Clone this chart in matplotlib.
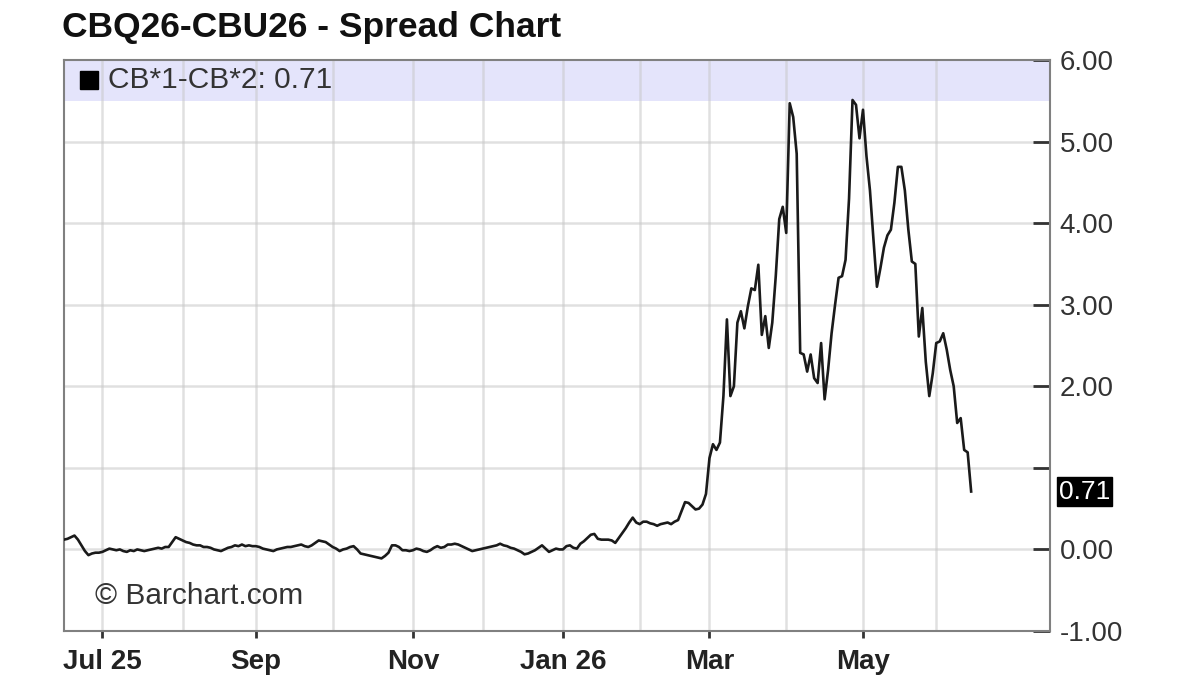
# Spread chart CBQ26-CBU26, barchart style
import matplotlib.pyplot as plt
import numpy as np
import pandas as pd

START_DATE = '2025-06-16'   # first trading day on the chart
LAST_VALUE = 0.71

# daily spread values (trading days)
spread = [
    0.12, 0.13, 0.15, 0.17, 0.12, 0.05, -0.02, -0.07, -0.05, -0.04,
    -0.04, -0.03, -0.01, 0.01, 0.00, -0.01, 0.00, -0.02, -0.03, -0.01,
    -0.02, 0.00, -0.01, -0.02, -0.01, 0.00, 0.01, 0.02, 0.01, 0.03,
    0.03, 0.09, 0.15, 0.13, 0.11, 0.09, 0.08, 0.06, 0.05, 0.05,
    0.03, 0.03, 0.02, 0.00, -0.01, -0.02, 0.00, 0.02, 0.03, 0.05,
    0.04, 0.06, 0.04, 0.05, 0.04, 0.04, 0.03, 0.01, 0.00, -0.01,
    -0.02, 0.00, 0.01, 0.02, 0.03, 0.03, 0.04, 0.05, 0.06, 0.04,
    0.03, 0.05, 0.08, 0.11, 0.10, 0.09, 0.06, 0.03, 0.01, -0.02,
    0.00, 0.01, 0.03, 0.04, 0.00, -0.05, -0.06, -0.07, -0.08, -0.09,
    -0.10, -0.11, -0.08, -0.04, 0.05, 0.05, 0.03, -0.01, -0.01, -0.02,
    -0.01, 0.01, 0.00, -0.02, -0.03, -0.01, 0.02, 0.04, 0.02, 0.03,
    0.06, 0.06, 0.07, 0.06, 0.04, 0.02, 0.00, -0.02, -0.01, 0.00,
    0.01, 0.02, 0.03, 0.04, 0.05, 0.07, 0.05, 0.04, 0.02, 0.01,
    -0.01, -0.03, -0.06, -0.05, -0.03, -0.01, 0.02, 0.05, 0.01, -0.03,
    -0.01, 0.01, 0.00, 0.00, 0.04, 0.05, 0.02, 0.01, 0.07, 0.10,
    0.14, 0.18, 0.19, 0.13, 0.12, 0.12, 0.12, 0.11, 0.08, 0.14,
    0.20, 0.26, 0.33, 0.39, 0.33, 0.31, 0.34, 0.34, 0.32, 0.31,
    0.29, 0.31, 0.32, 0.33, 0.31, 0.34, 0.36, 0.47, 0.58, 0.57,
    0.53, 0.49, 0.50, 0.55, 0.68, 1.12, 1.29, 1.22, 1.31, 1.88,
    2.82, 1.88, 2.00, 2.78, 2.92, 2.71, 2.98, 3.20, 3.18, 3.49,
    2.63, 2.86, 2.47, 2.78, 3.35, 4.05, 4.20, 3.88, 5.47, 5.30,
    4.85, 2.41, 2.39, 2.18, 2.39, 2.10, 2.04, 2.53, 1.84, 2.20,
    2.65, 3.00, 3.33, 3.35, 3.55, 4.30, 5.51, 5.45, 5.04, 5.39,
    4.82, 4.40, 3.80, 3.22, 3.45, 3.70, 3.85, 3.92, 4.25, 4.69,
    4.69, 4.40, 3.92, 3.53, 3.50, 2.61, 2.96, 2.30, 1.88, 2.16,
    2.53, 2.55, 2.65, 2.45, 2.20, 2.00, 1.55, 1.61, 1.22, 1.19,
    0.71,
]

Y_TICKS = [-1, 0, 1, 2, 3, 4, 5, 6]
X_LABEL_MONTHS = ['2025-07', '2025-09', '2025-11', '2026-01', '2026-03', '2026-05']
X_LABELS = ['Jul 25', 'Sep', 'Nov', 'Jan 26', 'Mar', 'May']

plt.rcParams['font.family'] = ['Liberation Sans', 'DejaVu Sans']

dates = pd.bdate_range(START_DATE, periods=len(spread))
x = np.arange(len(spread))

# index of first trading day of every month
months = pd.Series(dates.to_period('M'))
month_first = months.drop_duplicates()
month_idx = [i for i in month_first.index if i > 0]
month_name = [str(months[i]) for i in month_idx]

fig = plt.figure(figsize=(12, 7), dpi=100)
ax = fig.add_axes([64/1200, 69/700, 986/1200, 571/700])

ax.set_xlim(0, 282.6)
ax.set_ylim(-1, 6)

# legend band on top
ax.axhspan(5.5, 6.0, color='#e4e4fb', zorder=0, lw=0)

for xi in month_idx:
    ax.axvline(xi, color='#c8c8c8', alpha=0.55, lw=1.8, zorder=1)
for yv in Y_TICKS[1:-1]:
    ax.axhline(yv, color='#c8c8c8', alpha=0.55, lw=1.8, zorder=1)

ax.plot(x, spread, color='#1a1a1a', lw=1.9, zorder=3)

# axes look
for side in ['left', 'right', 'top', 'bottom']:
    ax.spines[side].set_color('#808080')
    ax.spines[side].set_linewidth(1.5)

ax.yaxis.tick_right()
ax.set_yticks(Y_TICKS)
ax.set_yticklabels(['' if v == 1 else '%.2f' % v for v in Y_TICKS])
ax.tick_params(axis='y', direction='in', length=12, width=2, color='#333333',
               labelsize=20, labelcolor='#333333', pad=7)

tick_pos = [month_idx[month_name.index(m)] for m in X_LABEL_MONTHS]
ax.set_xticks(tick_pos)
ax.set_xticklabels(X_LABELS, fontweight='bold')
ax.tick_params(axis='x', direction='out', length=5, width=2, color='#333333',
               labelsize=20, labelcolor='#222222', pad=8)

# last value marker on the axis
ax.text(1.009, LAST_VALUE, '%.2f' % LAST_VALUE, transform=ax.get_yaxis_transform(),
        ha='left', va='center', fontsize=19, color='white', clip_on=False,
        bbox=dict(boxstyle='square,pad=0.08', fc='black', ec='black'))

# legend text
ax.plot([0.025], [0.965], marker='s', ms=13, color='black', transform=ax.transAxes,
        clip_on=False, zorder=4)
ax.text(0.045, 0.965, 'CB*1-CB*2: %.2f' % LAST_VALUE, transform=ax.transAxes,
        ha='left', va='center', fontsize=21.5, color='#333333', zorder=4)

ax.text(0.031, 0.062, '\u00a9 Barchart.com', transform=ax.transAxes,
        ha='left', va='center', fontsize=21.5, color='#333333')

fig.text(62/1200, 1 - 28/700, 'CBQ26-CBU26 - Spread Chart', ha='left', va='center',
         fontsize=25.5, fontweight='bold', color='#111111')

plt.savefig('out.png', dpi=100)
